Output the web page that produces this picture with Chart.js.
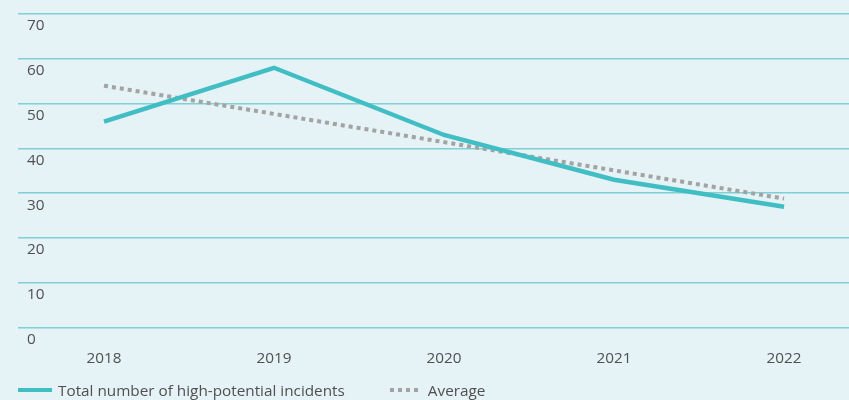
<!DOCTYPE html>
<html>
<head>
<meta charset="utf-8">
<script src="https://cdn.jsdelivr.net/npm/chart.js@4/dist/chart.umd.min.js"></script>
<style>
  html, body { margin: 0; padding: 0; background: #e5f2f6; }
  #wrap { width: 849px; height: 400px; position: relative; }
  #legend { position: absolute; left: 18px; top: 380px; display: flex; align-items: center;
            font: 400 15.3px 'Open Sans', sans-serif; color: #505050; white-space: nowrap; }
  .lg-item { display: flex; align-items: center; margin-right: 45px; }
  .lg-box { width: 34px; height: 4px; margin-right: 6px; }
</style>
</head>
<body>
<div id="wrap"><canvas id="chart"></canvas><div id="legend"></div></div>
<script>
/* ── Data ── */
const YEARS     = [2018, 2019, 2020, 2021, 2022];
const INCIDENTS = [46, 58, 43, 33, 27];
const AVERAGE   = [54, 47.7, 41.4, 35.1, 28.8];
const Y_TICKS   = [0, 10, 20, 30, 40, 50, 60, 70];

const TEAL = '#40bec3';
const GREY = '#a3a3a3';
const TEXT = '#505050';
const FONT = { family: "'Open Sans', sans-serif", size: 15.3 };

const pts = arr => YEARS.map((y, i) => ({ x: y, y: arr[i] }));

const chart = new Chart(document.getElementById('chart'), {
  type: 'line',
  data: {
    datasets: [
      { label: 'Total number of high-potential incidents', data: pts(INCIDENTS),
        borderColor: TEAL, backgroundColor: TEAL, borderWidth: 4.5, pointRadius: 0, tension: 0 },
      { label: 'Average', data: pts(AVERAGE),
        borderColor: GREY, backgroundColor: GREY, borderWidth: 4, borderDash: [4, 4], pointRadius: 0, tension: 0 }
    ]
  },
  options: {
    responsive: true,
    maintainAspectRatio: false,
    animation: false,
    layout: { padding: { left: 18, right: 0, top: 14, bottom: 18 } },
    plugins: {
      tooltip: { enabled: false },
      legend: { display: false }
    },
    scales: {
      x: {
        type: 'linear',
        min: 2017.494,
        max: 2022.382,
        afterBuildTicks: s => { s.ticks = YEARS.map(v => ({ value: v })); },
        afterFit: s => { s.paddingLeft = s.paddingRight = 0; },
        grid: { display: false },
        border: { display: false },
        ticks: { color: TEXT, font: FONT, padding: 14, callback: v => String(v), maxRotation: 0 }
      },
      y: {
        min: 0,
        max: 70,
        afterBuildTicks: s => { s.ticks = Y_TICKS.map(v => ({ value: v })); },
        afterFit: s => { s.width = 0; s.paddingTop = s.paddingBottom = 0; },
        grid: { color: '#7fd0d5', lineWidth: 1.5, drawTicks: false },
        border: { display: false },
        ticks: { color: TEXT, font: FONT, mirror: true, labelOffset: 12, padding: 9 }
      }
    }
  }
});

/* ── HTML legend ── */
document.getElementById('legend').innerHTML = chart.data.datasets.map(ds => {
  const bg = ds.borderDash
    ? `repeating-linear-gradient(90deg, ${ds.borderColor} 0 4px, transparent 4px 8px)`
    : ds.borderColor;
  const w = ds.borderDash ? 28 : 34;
  const gap = ds.borderDash ? 10 : 6;
  return `<div class="lg-item"><span class="lg-box" style="background:${bg};width:${w}px;margin-right:${gap}px"></span>${ds.label}</div>`;
}).join('');
</script>
</body>
</html>
